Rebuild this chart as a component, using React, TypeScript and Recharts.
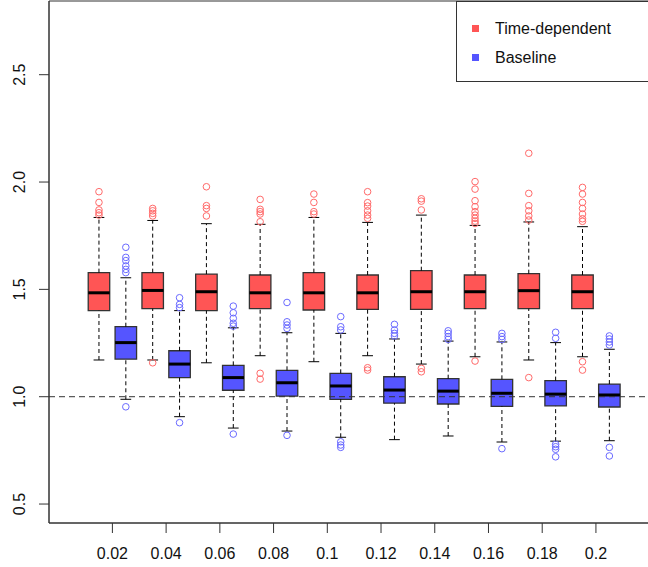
import React from "react";
import {
  ComposedChart,
  XAxis,
  YAxis,
  ReferenceArea,
  ReferenceLine,
  Scatter,
  Legend,
} from "recharts";

const CATEGORIES = ["0.02", "0.04", "0.06", "0.08", "0.1", "0.12", "0.14", "0.16", "0.18", "0.2"];

// Time-dependent boxes
const TD_LOW = [1.171, 1.171, 1.158, 1.191, 1.163, 1.191, 1.152, 1.186, 1.171, 1.186];
const TD_Q1 = [1.401, 1.41, 1.401, 1.41, 1.404, 1.407, 1.407, 1.41, 1.41, 1.41];
const TD_MED = [1.484, 1.495, 1.489, 1.484, 1.484, 1.484, 1.489, 1.489, 1.494, 1.489];
const TD_Q3 = [1.578, 1.578, 1.571, 1.567, 1.578, 1.567, 1.587, 1.567, 1.573, 1.567];
const TD_HIGH = [1.835, 1.821, 1.806, 1.803, 1.835, 1.812, 1.846, 1.798, 1.814, 1.792];
const TD_OUT = [
  [1.955, 1.905, 1.87, 1.857, 1.846],
  [1.877, 1.866, 1.854, 1.842, 1.158],
  [1.978, 1.89, 1.877, 1.842],
  [1.919, 1.873, 1.862, 1.851, 1.815, 1.109, 1.082],
  [1.944, 1.905, 1.862, 1.851],
  [1.955, 1.904, 1.888, 1.866, 1.846, 1.831, 1.135, 1.124],
  [1.922, 1.911, 1.87, 1.132, 1.116],
  [2.002, 1.967, 1.913, 1.885, 1.862, 1.846, 1.831, 1.818, 1.807, 1.166],
  [2.134, 1.947, 1.89, 1.866, 1.842, 1.823, 1.089],
  [1.975, 1.944, 1.905, 1.877, 1.851, 1.829, 1.817, 1.163, 1.124],
];

// Baseline boxes
const BL_LOW = [0.988, 0.907, 0.854, 0.84, 0.811, 0.8, 0.817, 0.789, 0.793, 0.795];
const BL_Q1 = [1.175, 1.089, 1.03, 1.003, 0.988, 0.97, 0.966, 0.955, 0.957, 0.952];
const BL_MED = [1.252, 1.152, 1.089, 1.065, 1.05, 1.031, 1.026, 1.016, 1.012, 1.008];
const BL_Q3 = [1.326, 1.214, 1.146, 1.123, 1.109, 1.093, 1.084, 1.081, 1.075, 1.059];
const BL_HIGH = [1.554, 1.401, 1.321, 1.298, 1.295, 1.269, 1.259, 1.255, 1.252, 1.221];
const BL_OUT = [
  [1.696, 1.649, 1.634, 1.609, 1.593, 1.578, 0.953],
  [1.461, 1.43, 1.415, 0.879],
  [1.422, 1.391, 1.365, 1.342, 1.329, 0.826],
  [1.439, 1.349, 1.334, 1.318, 0.82],
  [1.373, 1.326, 1.311, 0.79, 0.775, 0.764],
  [1.337, 1.311, 1.295, 1.283],
  [1.307, 1.295, 1.28, 1.267],
  [1.295, 1.28, 1.267, 0.758],
  [1.3, 1.272, 0.778, 0.767, 0.755, 0.72],
  [1.283, 1.269, 1.255, 1.241, 0.764, 0.724],
];

const Y_TICKS = [0.5, 1, 1.5, 2, 2.5];
const X_DOMAIN: [number, number] = [-0.86, 22.89];
const Y_DOMAIN: [number, number] = [0.4117, 2.8433];

const FONT = '"Liberation Sans", Arial, sans-serif';
const INK = "#333";

const SERIES = [
  { name: "Time-dependent", fill: "#ff5555", out: "#ff6a6a", shift: 1, low: TD_LOW, q1: TD_Q1, med: TD_MED, q3: TD_Q3, high: TD_HIGH, outliers: TD_OUT },
  { name: "Baseline", fill: "#5555ff", out: "#6a6aff", shift: 2, low: BL_LOW, q1: BL_Q1, med: BL_MED, q3: BL_Q3, high: BL_HIGH, outliers: BL_OUT },
];

const tickPositions = CATEGORIES.map((_, i) => 2 * i + 1.5);

function YTick(props: any) {
  const { x, y, payload } = props;
  return (
    <text
      transform={`translate(${x}, ${y}) rotate(-90)`}
      textAnchor="middle"
      fontSize={16}
      fontFamily={FONT}
      fill="#111"
    >
      {Number(payload.value).toFixed(1)}
    </text>
  );
}

function LegendBox() {
  return (
    <div
      style={{
        width: "100%",
        height: "100%",
        boxSizing: "border-box",
        border: `1px solid ${INK}`,
        background: "#fff",
        position: "relative",
        fontFamily: FONT,
        fontSize: 16,
        color: "#111",
      }}
    >
      {SERIES.map((s, i) => (
        <div key={s.name} style={{ position: "absolute", left: 15, top: 17 + i * 29, height: 20, lineHeight: "20px" }}>
          <span style={{ position: "absolute", left: 0, top: 6, width: 7, height: 7, background: s.fill }} />
          <span style={{ position: "absolute", left: 23, top: 0, whiteSpace: "nowrap" }}>{s.name}</span>
        </div>
      ))}
    </div>
  );
}

export default function App() {
  const boxes: React.ReactNode[] = [];
  SERIES.forEach((s) => {
    CATEGORIES.forEach((_, i) => {
      const p = 2 * i + s.shift;
      const k = `${s.name}-${i}`;
      boxes.push(
        <ReferenceLine key={k + "wu"} segment={[{ x: p, y: s.q3[i] }, { x: p, y: s.high[i] }]} stroke="#000" strokeDasharray="4 3" />,
        <ReferenceLine key={k + "wl"} segment={[{ x: p, y: s.low[i] }, { x: p, y: s.q1[i] }]} stroke="#000" strokeDasharray="4 3" />,
        <ReferenceLine key={k + "cu"} segment={[{ x: p - 0.2, y: s.high[i] }, { x: p + 0.2, y: s.high[i] }]} stroke="#000" />,
        <ReferenceLine key={k + "cl"} segment={[{ x: p - 0.2, y: s.low[i] }, { x: p + 0.2, y: s.low[i] }]} stroke="#000" />,
        <ReferenceArea key={k + "b"} x1={p - 0.4} x2={p + 0.4} y1={s.q1[i]} y2={s.q3[i]} fill={s.fill} fillOpacity={1} stroke={INK} strokeWidth={1.3} />,
        <ReferenceLine key={k + "m"} segment={[{ x: p - 0.4, y: s.med[i] }, { x: p + 0.4, y: s.med[i] }]} stroke="#000" strokeWidth={3} />
      );
    });
  });

  return (
    <div style={{ position: "absolute", left: 0, top: 0, width: 648, height: 567, overflow: "hidden", background: "#fff" }}>
      <ComposedChart width={700} height={567} margin={{ top: 1, right: 13, bottom: 0, left: 0 }}>
        <XAxis
          type="number"
          dataKey="x"
          domain={X_DOMAIN}
          allowDataOverflow
          ticks={tickPositions}
          tickFormatter={(v: number) => CATEGORIES[Math.round((v - 1.5) / 2)]}
          tickSize={10}
          tickMargin={15}
          height={44}
          stroke={INK}
          tick={{ fontSize: 16, fontFamily: FONT, fill: "#111" }}
        />
        <YAxis
          type="number"
          dataKey="y"
          domain={Y_DOMAIN}
          allowDataOverflow
          ticks={Y_TICKS}
          width={49}
          tickSize={10}
          tickMargin={14}
          stroke={INK}
          tick={<YTick />}
        />
        <ReferenceArea x1={X_DOMAIN[0]} x2={X_DOMAIN[1]} y1={Y_DOMAIN[0]} y2={Y_DOMAIN[1]} fill="none" stroke={INK} />
        {boxes}
        <ReferenceLine y={1} stroke={INK} strokeDasharray="6 4" />
        {SERIES.map((s) => (
          <Scatter
            key={s.name}
            name={s.name}
            data={s.outliers.flatMap((vals, i) => vals.map((v) => ({ x: 2 * i + s.shift, y: v })))}
            isAnimationActive={false}
            shape={(pt: any) => <circle cx={pt.cx} cy={pt.cy} r={3.3} fill="none" stroke={s.out} strokeWidth={1} />}
          />
        ))}
        <Legend
          layout="vertical"
          align="center"
          verticalAlign="middle"
          wrapperStyle={{ left: 456, top: 1, width: 240, height: 81 }}
          content={() => <LegendBox />}
        />
      </ComposedChart>
    </div>
  );
}
